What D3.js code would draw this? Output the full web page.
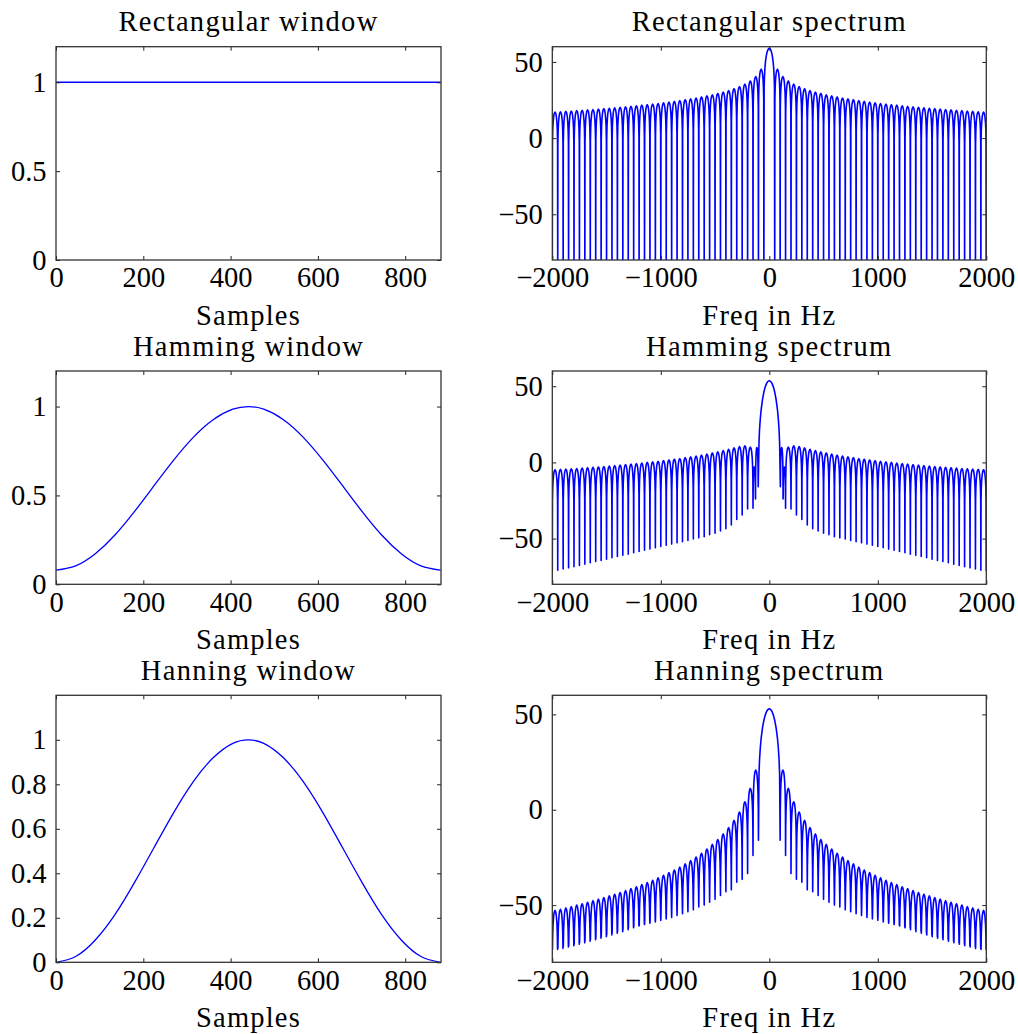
<!DOCTYPE html>
<html>
<head>
<meta charset="utf-8">
<script src="https://cdn.jsdelivr.net/npm/d3@7"></script>
<style>
body { margin: 0; background: #fff; }
text { font-family: "Liberation Serif", "Times New Roman", serif; fill: #000; }
</style>
</head>
<body>
<div id="chart"></div>
<script>
// ---- data ----
// window shapes (sample index -> amplitude)
var winSamples = [0, 45, 90, 135, 180, 225, 270, 315, 360, 405, 440.5, 476, 521, 566, 611, 656, 701, 746, 791, 836, 881];
var rectWindow = [1, 1, 1, 1, 1, 1, 1, 1, 1, 1, 1, 1, 1, 1, 1, 1, 1, 1, 1, 1, 1];
var hammingWindow = [0.08, 0.104, 0.172, 0.277, 0.41, 0.556, 0.7, 0.828, 0.926, 0.985, 1.0,
                     0.985, 0.926, 0.828, 0.7, 0.556, 0.41, 0.277, 0.172, 0.104, 0.08];
var hanningWindow = [0, 0.026, 0.1, 0.214, 0.359, 0.517, 0.674, 0.813, 0.919, 0.984, 1.0,
                     0.984, 0.919, 0.813, 0.674, 0.517, 0.359, 0.214, 0.1, 0.026, 0];

// spectra: positive-frequency half, mirrored for negative frequencies
// null positions of the sidelobes (Hz)
var sideNullHz = [50, 100, 150, 200, 250, 300, 350, 400, 450, 500, 550, 600, 650, 700, 750, 800,
                  850, 900, 950, 1000, 1050, 1100, 1150, 1200, 1250, 1300, 1350, 1400, 1450, 1500,
                  1550, 1600, 1650, 1700, 1750, 1800, 1850, 1900, 1950, 2000];

// shape of one sidelobe between two nulls (fraction of lobe width -> dB below lobe peak)
var lobeU = [0.03, 0.08, 0.15, 0.25, 0.35, 0.5, 0.65, 0.75, 0.85, 0.92, 0.97];
var lobeShapeDb = [-20.5, -12.1, -6.9, -3.0, -1.0, 0, -1.0, -3.0, -6.9, -12.1, -20.5];

// Rectangular
var rectMainHz = [0, 5, 10, 15, 20, 25, 30, 35, 40, 45, 47.5];
var rectMainDb = [58.9, 58.8, 58.3, 57.6, 56.5, 55.0, 53.0, 50.2, 46.3, 39.7, 33.3];
var rectFloorDb = -100; // nulls fall below the axis
var rectPeakDb = [45.2, 40.4, 37.5, 35.4, 33.8, 32.4, 31.2, 30.2, 29.3, 28.4, 27.7, 27.0, 26.3,
                  25.7, 25.2, 24.6, 24.1, 23.6, 23.2, 22.7, 22.3, 21.9, 21.6, 21.2, 20.8, 20.5,
                  20.2, 19.9, 19.6, 19.3, 19.0, 18.7, 18.5, 18.2, 18.0, 17.7, 17.5, 17.3, 17.1];

// Hamming
var hammingMainHz = [0, 12.5, 25, 37.5, 50, 62.5, 75, 82.5, 90, 95];
var hammingMainDb = [53.6, 53.2, 51.9, 49.6, 46.2, 41.4, 34.7, 29.1, 21.6, 12.9];
var hammingNullHz = [102, 127].concat(sideNullHz.slice(2));
var hammingNullDb = [-16, -24, -30, -30.5, -34.5, -37.5, -41, -43.5, -45, -46.5,
                     -47.5, -48.8, -49.5, -50.3, -51.2, -52, -52.8, -53.6, -54.4, -55.2,
                     -56, -56.9, -57.7, -58.5, -59.3, -60.2, -61, -61.8, -62.6, -63.5,
                     -64.3, -65.1, -65.9, -66.8, -67.6, -68.4, -69.2, -70, -70.7, -71.3];
var hammingPeakDb = [9.8, -3.0, 10.0, 10.9, 10.4, 9.5, 8.6, 7.8, 6.9, 6.2, 5.5, 4.8, 4.2, 3.6,
                     3.1, 2.5, 2.1, 1.6, 1.2, 0.7, 0.3, 0.0, -0.4, -0.8, -1.1, -1.5, -1.8,
                     -2.1, -2.4, -2.7, -3.0, -3.2, -3.5, -3.7, -4.0, -4.2, -4.4, -4.6, -4.8];

// Hanning
var hanningMainHz = [0, 12.5, 25, 37.5, 50, 62.5, 75, 82.5, 90, 95];
var hanningMainDb = [52.9, 52.55, 51.5, 49.6, 46.9, 43.0, 37.5, 32.9, 26.2, 18.8];
var hanningNullHz = sideNullHz.slice(1);
var hanningNullDb = [-16, -24, -33.5, -36.5, -38, -42, -43, -45, -47, -48.5, -50, -51, -52.5,
                     -53.5, -54.5, -55.5, -56.5, -57.3, -58, -58.8, -59.5, -60.2, -60.8, -61.5,
                     -62.1, -62.7, -63.3, -63.9, -64.5, -65.1, -65.6, -66.2, -66.7, -67.3,
                     -67.8, -68.3, -68.8, -69.3, -69.8];
var hanningPeakDb = [20.8, 11.2, 4.2, -1.2, -5.6, -9.4, -12.7, -15.6, -18.2, -20.6, -22.8, -24.8,
                     -26.7, -28.4, -30.1, -31.6, -33.0, -34.4, -35.7, -37.0, -38.2, -39.3, -40.4,
                     -41.4, -42.4, -43.4, -44.3, -45.2, -46.1, -46.9, -47.7, -48.5, -49.3, -50.0,
                     -50.8, -51.5, -52.2, -52.8];

// tick labels
var sampleTicks = [0, 200, 400, 600, 800];
var freqTicks = [-2000, -1000, 0, 1000, 2000];
var dbTicks = [-50, 0, 50];
var ampTicks = [0, 0.5, 1];
var ampTicksFine = [0, 0.2, 0.4, 0.6, 0.8, 1];

// ---- layout ----
var W = 1018, H = 1034;
var cols = [{ l: 56, r: 441 }, { l: 552.3, r: 986.3 }];
var rows = [{ t: 46.7, b: 260 }, { t: 371, b: 584.3 }, { t: 695.3, b: 962.3 }];
var fontSize = 28.5;

var svg = d3.select("#chart")
    .append("svg")
    .attr("width", W)
    .attr("height", H);

// build a polyline through the lobes of one spectrum
function spectrumPoints(mainHz, mainDb, nullHz, nullDb, peakDb) {
    var half = [];
    mainHz.forEach(function (f, i) { half.push([f, mainDb[i]]); });
    for (var i = 0; i < nullHz.length; i++) {
        half.push([nullHz[i], nullDb[i]]);
        if (i < peakDb.length) {
            var f0 = nullHz[i], f1 = nullHz[i + 1];
            lobeU.forEach(function (u, j) {
                half.push([f0 + u * (f1 - f0), peakDb[i] + lobeShapeDb[j]]);
            });
        }
    }
    var neg = half.filter(function (d) { return d[0] > 0; })
        .map(function (d) { return [-d[0], d[1]]; })
        .reverse();
    return neg.concat(half);
}

var panels = [
    { row: 0, col: 0, title: "Rectangular window", xlabel: "Samples", kind: "win",
      data: winSamples.map(function (n, i) { return [n, rectWindow[i]]; }), yTicks: ampTicks },
    { row: 0, col: 1, title: "Rectangular spectrum", xlabel: "Freq in Hz", kind: "spec",
      data: spectrumPoints(rectMainHz, rectMainDb, sideNullHz,
          sideNullHz.map(function () { return rectFloorDb; }), rectPeakDb), yTicks: dbTicks },
    { row: 1, col: 0, title: "Hamming window", xlabel: "Samples", kind: "win",
      data: winSamples.map(function (n, i) { return [n, hammingWindow[i]]; }), yTicks: ampTicks },
    { row: 1, col: 1, title: "Hamming spectrum", xlabel: "Freq in Hz", kind: "spec",
      data: spectrumPoints(hammingMainHz, hammingMainDb, hammingNullHz, hammingNullDb, hammingPeakDb), yTicks: dbTicks },
    { row: 2, col: 0, title: "Hanning window", xlabel: "Samples", kind: "win",
      data: winSamples.map(function (n, i) { return [n, hanningWindow[i]]; }), yTicks: ampTicksFine },
    { row: 2, col: 1, title: "Hanning spectrum", xlabel: "Freq in Hz", kind: "spec",
      data: spectrumPoints(hanningMainHz, hanningMainDb, hanningNullHz, hanningNullDb, hanningPeakDb), yTicks: dbTicks }
];

panels.forEach(function (p, idx) {
    var c = cols[p.col], r = rows[p.row];
    var w = c.r - c.l, h = r.b - r.t;
    var g = svg.append("g").attr("transform", "translate(" + c.l + "," + r.t + ")");

    var x, y, xt;
    if (p.kind === "win") {
        x = d3.scaleLinear().domain([0, 882]).range([0, w]);
        y = d3.scaleLinear().domain([0, 1.2]).range([h, 0]);
        xt = sampleTicks;
    } else {
        x = d3.scaleLinear().domain([-2000, 2000]).range([0, w]);
        y = d3.scaleLinear().domain([-80, 60]).range([h, 0]);
        xt = freqTicks;
    }

    g.append("clipPath").attr("id", "clip" + idx)
        .append("rect").attr("width", w).attr("height", h);

    var line = d3.line()
        .x(function (d) { return x(d[0]); })
        .y(function (d) { return y(d[1]); })
        .curve(p.kind === "win" ? d3.curveNatural : d3.curveLinear);

    g.append("path")
        .datum(p.data)
        .attr("clip-path", "url(#clip" + idx + ")")
        .attr("fill", "none")
        .attr("stroke", "#0000ff")
        .attr("stroke-width", p.kind === "win" ? 1.3 : 1.6)
        .attr("stroke-linejoin", "round")
        .attr("d", line);

    // axes with inward ticks on all four sides
    var bottom = g.append("g").attr("transform", "translate(0," + h + ")")
        .call(d3.axisBottom(x).tickValues(xt).tickSizeInner(-4).tickSizeOuter(0).tickPadding(7)
            .tickFormat(d3.format("d")));
    var left = g.append("g")
        .call(d3.axisLeft(y).tickValues(p.yTicks).tickSizeInner(-4).tickSizeOuter(0).tickPadding(9.5)
            .tickFormat(d3.format("")));
    var top = g.append("g")
        .call(d3.axisTop(x).tickValues(xt).tickSizeInner(-4).tickSizeOuter(0).tickFormat(""));
    var right = g.append("g").attr("transform", "translate(" + w + ",0)")
        .call(d3.axisRight(y).tickValues(p.yTicks).tickSizeInner(-4).tickSizeOuter(0).tickFormat(""));

    [bottom, left, top, right].forEach(function (a) {
        a.select(".domain").remove();
        a.selectAll(".tick line").attr("stroke", "#222").attr("stroke-width", 1);
        a.selectAll(".tick text")
            .style("font-family", "'Liberation Serif', 'Times New Roman', serif")
            .style("font-size", fontSize + "px")
            .attr("fill", "#000");
    });

    g.append("rect")
        .attr("width", w).attr("height", h)
        .attr("fill", "none")
        .attr("stroke", "#333")
        .attr("stroke-width", 1.3);

    g.append("text")
        .attr("x", w / 2).attr("y", -15.5)
        .attr("text-anchor", "middle")
        .style("font-size", fontSize + "px")
        .style("letter-spacing", "1.3px")
        .text(p.title);

    g.append("text")
        .attr("x", w / 2).attr("y", h + 65)
        .attr("text-anchor", "middle")
        .style("font-size", fontSize + "px")
        .style("letter-spacing", "1.2px")
        .text(p.xlabel);
});
</script>
</body>
</html>
